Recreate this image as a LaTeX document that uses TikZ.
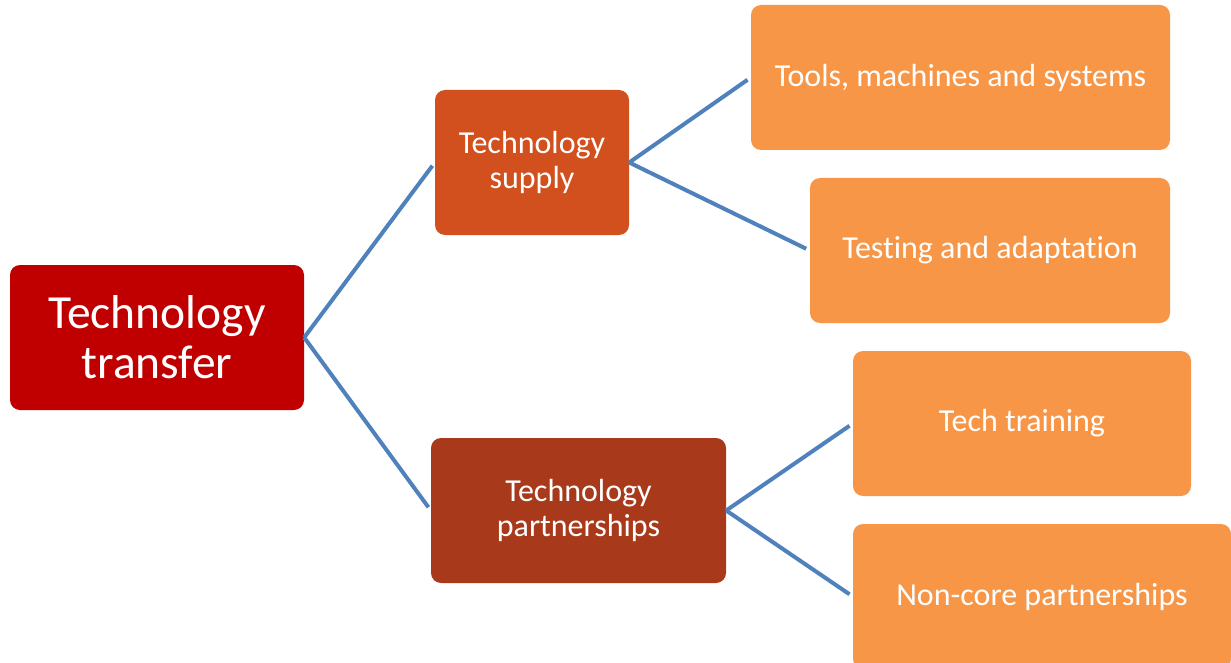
\documentclass[tikz,border=0pt]{standalone}
\usepackage{fontspec}
\setmainfont[Ligatures=NoCommon]{Carlito}
\usetikzlibrary{positioning}

\definecolor{rootred}{HTML}{C00000}
\definecolor{supplyred}{HTML}{D2501D}
\definecolor{partnerred}{HTML}{A83A1B}
\definecolor{leaforange}{HTML}{F79646}
\definecolor{linkblue}{HTML}{4F81BD}

\begin{document}
\begin{tikzpicture}[x=1pt,y=1pt,on grid,
    box/.style={rounded corners=10pt, text=white, align=center,
                minimum height=145pt, inner sep=0pt},
    rootbox/.style={box, fill=rootred, minimum width=294pt,
                font=\fontsize{47.5}{50}\selectfont},
    midbox/.style={box, font=\fontsize{32}{35}\selectfont},
    leafbox/.style={box, fill=leaforange, font=\fontsize{32}{35}\selectfont},
    link/.style={draw=linkblue, line width=4pt, shorten >=4pt}]
    \useasboundingbox (0,0) rectangle (1231,-663);
    \node[rootbox] (root) at (157,-337.5) {Technology\\transfer};
    \node[midbox, fill=supplyred, minimum width=194pt] [above right=175pt and 375pt of root] (supply) {Technology\\supply};
    \node[midbox, fill=partnerred, minimum width=295pt] [below right=173pt and 421.5pt of root] (partner) {Technology\\partnerships};
    \node[leafbox, minimum width=419pt] [above right=85pt and 428.5pt of supply] (tools) {Tools, machines and systems};
    \node[leafbox, minimum width=360pt] [below right=88pt and 458pt of supply] (testing) {Testing and adaptation};
    \node[leafbox, minimum width=338pt] [above right=87pt and 443.5pt of partner] (training) {Tech training};
    \node[leafbox, minimum width=378pt] [below right=86pt and 463.5pt of partner] (noncore) {Non-core partnerships};
    \path[link]
    (root.east) edge (supply.west)
                edge (partner.west)
    (supply.east) edge (tools.west)
                  edge (testing.west)
    (partner.east) edge (training.west)
                   edge (noncore.west);
\end{tikzpicture}
\end{document}
